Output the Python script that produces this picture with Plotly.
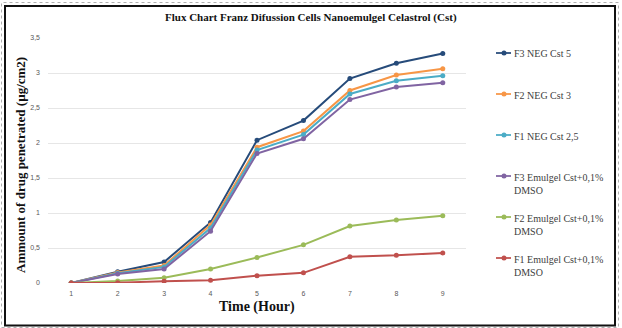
import plotly.graph_objects as go

# Sampling times (hours) and cumulative amount of drug penetrated (µg/cm2)
hours = [1, 2, 3, 4, 5, 6, 7, 8, 9]
series_names = [
    "F3 NEG Cst 5",
    "F2 NEG Cst 3",
    "F1 NEG Cst 2,5",
    "F3 Emulgel Cst+0,1%<br>DMSO",
    "F2 Emulgel Cst+0,1%<br>DMSO",
    "F1 Emulgel Cst+0,1%<br>DMSO",
]
f3_neg = [0, 0.16, 0.30, 0.865, 2.04, 2.32, 2.92, 3.14, 3.28]
f2_neg = [0, 0.15, 0.25, 0.83, 1.94, 2.17, 2.75, 2.97, 3.06]
f1_neg = [0, 0.14, 0.23, 0.785, 1.90, 2.12, 2.70, 2.89, 2.96]
f3_emulgel = [0, 0.13, 0.20, 0.74, 1.85, 2.06, 2.62, 2.80, 2.86]
f2_emulgel = [0, 0.03, 0.075, 0.20, 0.365, 0.545, 0.815, 0.90, 0.96]
f1_emulgel = [0, 0.005, 0.025, 0.04, 0.105, 0.145, 0.375, 0.395, 0.43]
y_ticks = [0, 0.5, 1, 1.5, 2, 2.5, 3, 3.5]

series_values = [f3_neg, f2_neg, f1_neg, f3_emulgel, f2_emulgel, f1_emulgel]
colors = ["#264B7A", "#F79646", "#4BACC6", "#8064A2", "#9BBB59", "#C0504D"]

W, H = 622, 328
L, R, T, B = 48, 466, 38, 283  # plot area in pixels


def px_x(x):
    return (x - L) / (R - L)


def px_y(y):
    return (B - y) / (B - T)


fig = go.Figure()
for name, vals, col in zip(series_names, series_values, colors):
    fig.add_trace(go.Scatter(
        x=hours, y=vals, name=name, mode="lines+markers",
        line=dict(color=col, width=2),
        marker=dict(color=col, size=5, symbol="circle"),
        showlegend=False,
    ))

shapes = []
annotations = []

# Legend drawn to the right of the plot area
legend_y = [53, 94, 135, 176, 217, 258]
for name, col, ly in zip(series_names, colors, legend_y):
    shapes.append(dict(type="line", xref="paper", yref="paper",
                       x0=px_x(496), x1=px_x(511), y0=px_y(ly), y1=px_y(ly),
                       line=dict(color=col, width=1.75)))
    shapes.append(dict(type="circle", xref="paper", yref="paper",
                       x0=px_x(501.5), x1=px_x(506.5),
                       y0=px_y(ly + 2.5), y1=px_y(ly - 2.5),
                       fillcolor=col, line=dict(color=col, width=0)))
    annotations.append(dict(
        text=name, xref="paper", yref="paper", x=px_x(512), y=px_y(ly - 6.5),
        xanchor="left", yanchor="top", align="left", showarrow=False,
        font=dict(family="Liberation Serif", size=10, color="#404040"),
    ))

# Outer dotted border and black frame
shapes.append(dict(type="rect", xref="paper", yref="paper",
                   x0=px_x(1.5), x1=px_x(618.5), y0=px_y(327.5), y1=px_y(2.5),
                   line=dict(color="#B0B0B0", width=1, dash="dot")))
shapes.append(dict(type="rect", xref="paper", yref="paper",
                   x0=px_x(5), x1=px_x(615), y0=px_y(325.5), y1=px_y(6),
                   line=dict(color="#111111", width=2)))

# Y axis title
annotations.append(dict(
    text="<b>Ammount of drug penetrated (µg/cm2)</b>", xref="paper", yref="paper",
    x=px_x(20), y=px_y(165), textangle=-90, showarrow=False,
    xanchor="center", yanchor="middle",
    font=dict(family="Liberation Serif", size=13, color="#111111"),
))
# X axis title
annotations.append(dict(
    text="<b>Time (Hour)</b>", xref="paper", yref="paper",
    x=px_x(257), y=px_y(307), showarrow=False,
    xanchor="center", yanchor="middle",
    font=dict(family="Liberation Serif", size=14, color="#111111"),
))
# Chart title
annotations.append(dict(
    text="<b>Flux Chart Franz Difussion Cells Nanoemulgel Celastrol (Cst)</b>",
    xref="paper", yref="paper", x=px_x(311), y=px_y(18), showarrow=False,
    xanchor="center", yanchor="middle",
    font=dict(family="Liberation Serif", size=11, color="#111111"),
))

# Tick labels use a decimal comma
y_ticktext = [f"{v:g}".replace(".", ",") for v in y_ticks]

fig.update_layout(
    width=W, height=H,
    margin=dict(l=L, r=W - R, t=T, b=H - B, pad=0),
    paper_bgcolor="white", plot_bgcolor="white",
    shapes=shapes, annotations=annotations,
    xaxis=dict(
        range=[0.5, 9.5], tickvals=hours, ticktext=[str(h) for h in hours],
        showgrid=False, zeroline=False, showline=False, ticks="",
        tickfont=dict(family="Liberation Sans", size=7, color="#595959"),
        ticklabelstandoff=5,
    ),
    yaxis=dict(
        range=[0, 3.5], tickvals=y_ticks, ticktext=y_ticktext,
        showgrid=True, gridcolor="#E6E6E6", gridwidth=1,
        zeroline=False, showline=False, ticks="",
        tickfont=dict(family="Liberation Sans", size=7, color="#595959"),
        ticklabelstandoff=7,
    ),
)

fig.write_html("out.html")
